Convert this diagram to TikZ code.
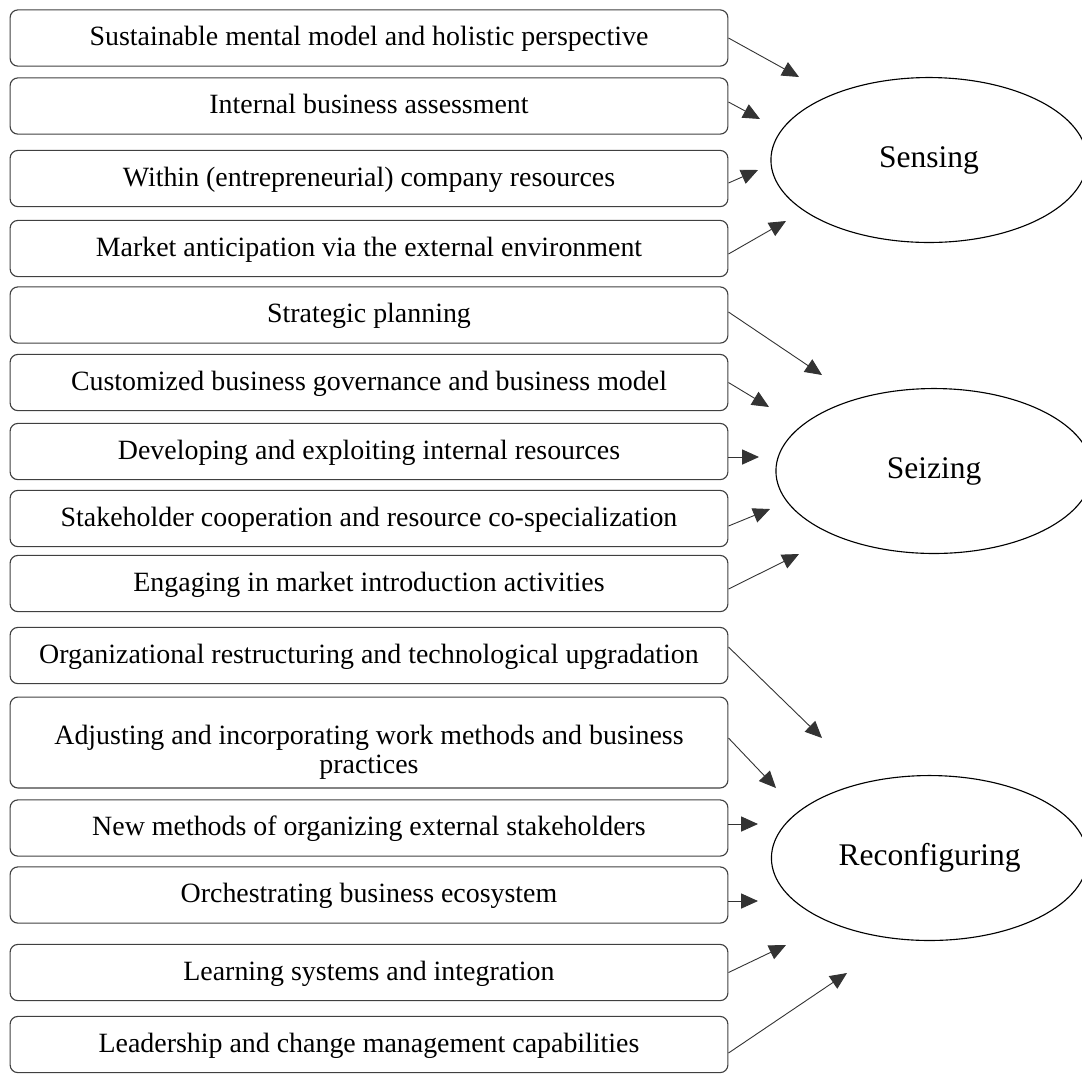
\documentclass[tikz,border=0pt]{standalone}
\usepackage{fontspec}
\setmainfont{Liberation Serif}
\usetikzlibrary{shapes.geometric,arrows.meta}

\tikzset{
  capbox/.style={draw=black!75, line width=0.5pt, rounded corners=3.5pt,
    minimum width=319pt, minimum height=25pt, inner sep=0pt, align=center,
    text height=0.85em, text depth=0.18em,
    font=\fontsize{12.4}{12.6}\selectfont},
  capell/.style={ellipse, draw, line width=0.5pt, minimum width=140.5pt,
    minimum height=73.3pt, inner sep=0pt, font=\fontsize{14}{16}\selectfont},
  feed/.style={-{Triangle[length=7.5pt,width=6.7pt]}, black!80, line width=0.4pt}
}

\begin{document}
\begin{tikzpicture}[x=0.4444pt, y=-0.4444pt]
    \useasboundingbox (0,0) rectangle (1082,1073);

    % capability groups
    \node [capell] (sens) at (929,160) {Sensing};
    \node [capell] (seiz) at (934,471) {Seizing};
    \node [capell] (reco) at (929.5,858) {Reconfiguring};

    % micro-foundations, sensing
    \node [capbox] (b1) at (369,38) {Sustainable mental model and holistic perspective};
    \node [capbox] (b2) at (369,106) {Internal business assessment};
    \node [capbox] (b3) at (369,178.5) {Within (entrepreneurial) company resources};
    \node [capbox] (b4) at (369,248.5) {Market anticipation via the external environment};
    % seizing
    \node [capbox] (b5) at (369,315) {Strategic planning};
    \node [capbox] (b6) at (369,382.5) {Customized business governance and business model};
    \node [capbox] (b7) at (369,451.5) {Developing and exploiting internal resources};
    \node [capbox] (b8) at (369,518.5) {Stakeholder cooperation and resource co-specialization};
    \node [capbox] (b9) at (369,583.5) {Engaging in market introduction activities};
    % reconfiguring
    \node [capbox] (b10) at (369,655.5) {Organizational restructuring and technological upgradation};
    \node [capbox, minimum height=40.4pt, text height=, text depth=] (b11) at (369,742.5)
        {\rule{0pt}{17.4pt}Adjusting and incorporating work methods and business\\practices};
    \node [capbox] (b12) at (369,828) {New methods of organizing external stakeholders};
    \node [capbox] (b13) at (369,895) {Orchestrating business ecosystem};
    \node [capbox] (b14) at (369,972.5) {Learning systems and integration};
    \node [capbox] (b15) at (369,1044.5) {Leadership and change management capabilities};

    % arrow tips (they stop short of the ellipses)
    \coordinate (t1) at (799,77);
    \coordinate (t2) at (760,119);
    \coordinate (t3) at (758,170);
    \coordinate (t4) at (786,221);
    \coordinate (t5) at (822,375);
    \coordinate (t6) at (769,407);
    \coordinate (t7) at (759,457);
    \coordinate (t8) at (770,509);
    \coordinate (t9) at (799,554);
    \coordinate (t10) at (822,738);
    \coordinate (t11) at (776,788);
    \coordinate (t12) at (758,824);
    \coordinate (t13) at (758,901);
    \coordinate (t14) at (786,945);
    \coordinate (t15) at (847,973);

    \draw [feed] (b1.east) -- (t1);
    \draw [feed] ([shift={(0,-4)}]b2.east) -- (t2);
    \draw [feed] ([shift={(0,4.5)}]b3.east) -- (t3);
    \draw [feed] ([shift={(0,5.5)}]b4.east) -- (t4);
    \draw [feed] ([shift={(0,-3)}]b5.east) -- (t5);
    \draw [feed] (b6.east) -- (t6);
    \draw [feed] ([shift={(0,5.5)}]b7.east) -- (t7);
    \draw [feed] ([shift={(0,7.5)}]b8.east) -- (t8);
    \draw [feed] ([shift={(0,5.5)}]b9.east) -- (t9);
    \draw [feed] ([shift={(0,-8.5)}]b10.east) -- (t10);
    \draw [feed] ([shift={(0,-4.5)}]b11.east) -- (t11);
    \draw [feed] ([shift={(0,-4)}]b12.east) -- (t12);
    \draw [feed] ([shift={(0,6)}]b13.east) -- (t13);
    \draw [feed] (b14.east) -- (t14);
    \draw [feed] ([shift={(0,8.5)}]b15.east) -- (t15);
\end{tikzpicture}
\end{document}
